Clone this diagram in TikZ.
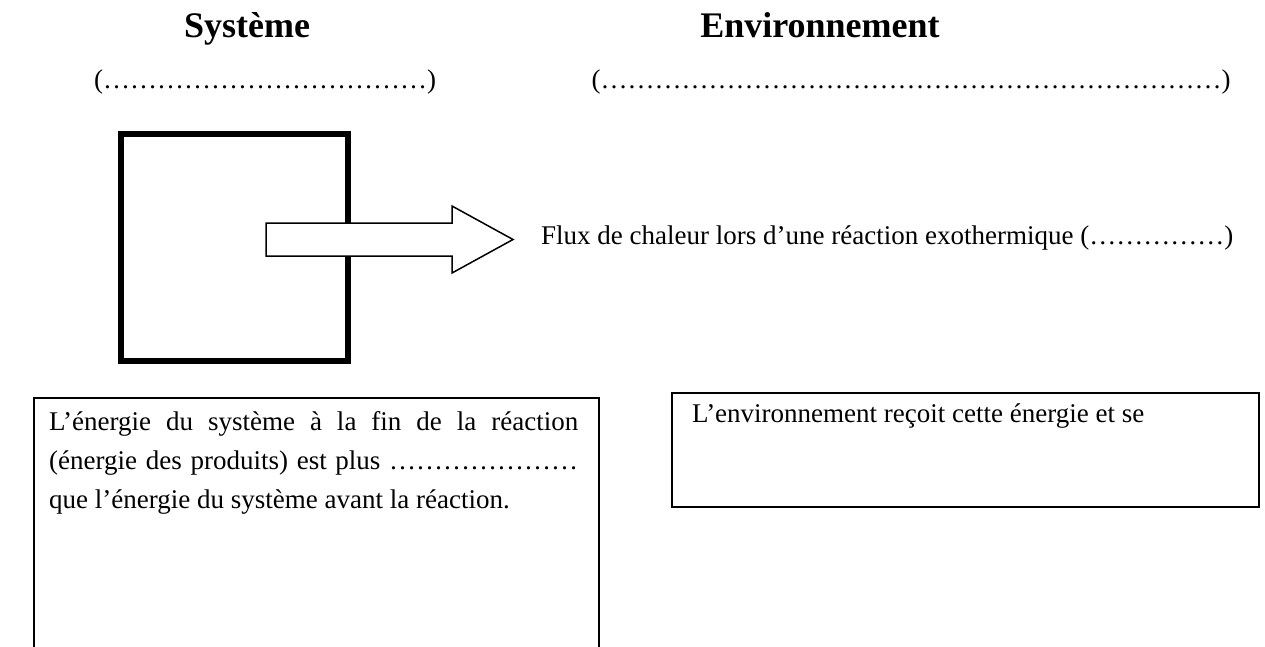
\documentclass[tikz,border=0pt]{standalone}
\usepackage{fontspec}
\setmainfont{Liberation Serif}
\usepackage{tikz}
\newcommand\pointilles[1]{\foreach \i in {1,...,#1}{…}}

\begin{document}
\begin{tikzpicture}[x=1pt,y=-1pt,
  every node/.style={inner sep=0pt,font=\fontsize{27}{32}\selectfont},
  titre/.style={anchor=base,font=\fontsize{36}{42}\selectfont\bfseries},
  cadre/.style={draw,line width=2pt}]
\useasboundingbox (0,0) rectangle (1265,646);

\node (sys) at (247,37) [titre] {Système};
\node (env) at (820,37) [titre] {Environnement};

\node (blanc1) at (265,88) [anchor=base] {(\pointilles{12})};
\node (blanc2) at (911,88) [anchor=base] {(\pointilles{23})};

\node (boite) at (234.5,247.5) [draw,line width=6pt,minimum size=227pt] {};
\draw[fill=white,line width=1.5pt] (266,223) -- (452,223) -- (452,206) -- (513,239.5)
  -- (452,273) -- (452,256) -- (266,256) -- cycle;
\node (flux) at (541,244) [anchor=base west] {Flux de chaleur lors d’une réaction exothermique (\pointilles{5})};

\draw[cadre] (34,650) -- (34,398) -- (599,398) -- (599,650);
\node (energie) at (49,430) [anchor=base west,text width=529pt,align=justify,
  font=\fontsize{27}{39}\selectfont]
  {L’énergie du système à la fin de la réaction\linebreak
   (énergie des produits) est plus \pointilles{7}\linebreak
   que l’énergie du système avant la réaction.};

\node (recoit) at (671,392) [cadre,anchor=north west,minimum width=587pt,minimum height=114pt] {};
\node (recoittxt) at (692,422) [anchor=base west] {L’environnement reçoit cette énergie et se};
\end{tikzpicture}
\end{document}
